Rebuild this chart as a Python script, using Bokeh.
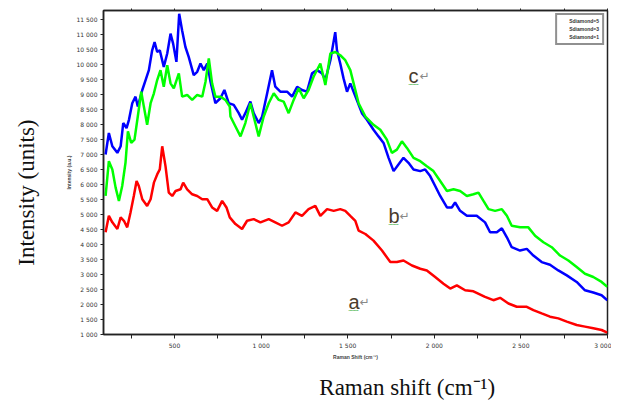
from bokeh.plotting import figure
from bokeh.models import (Range1d, FixedTicker, LinearAxis, Label, Legend,
                          LegendItem, ColumnDataSource)
from bokeh.embed import file_html
from bokeh.resources import INLINE

# ---------------- data ----------------
blue_x = [102, 121, 141, 170, 189, 204, 223, 237, 256, 275, 288, 314, 333, 352, 371, 385,
          400, 415, 438, 458, 477, 492, 511, 527, 544, 563, 582, 611, 631, 650, 669, 689,
          708, 736, 765, 788, 813, 842, 871, 890, 909, 938, 957, 986, 1006, 1035, 1063,
          1082, 1111, 1150, 1179, 1208, 1236, 1265, 1294, 1323, 1352, 1371, 1400, 1428,
          1438, 1457, 1476, 1496, 1515, 1582, 1611, 1649, 1678, 1707, 1736, 1765, 1793,
          1822, 1851, 1880, 1919, 1947, 1976, 2005, 2034, 2073, 2101, 2120, 2149, 2188,
          2245, 2293, 2322, 2361, 2390, 2419, 2447, 2495, 2534, 2572, 2620, 2668, 2716,
          2765, 2822, 2870, 2918, 2966, 2999]
blue_y = [7000, 7717, 7273, 7055, 7273, 8048, 7882, 8157, 8710, 8928, 8597, 9150, 9481, 9812,
          10474, 10749, 10418, 10474, 9921, 10365, 11027, 10696, 10087, 11689, 11136, 10583,
          10252, 9646, 9756, 10034, 9812, 10034, 9425, 8710, 8875, 9150, 8710, 8653, 8379,
          8157, 8379, 8763, 8379, 8048, 8266, 9041, 9812, 9259, 9094, 9094, 8928, 9259,
          9150, 9094, 9703, 9812, 9703, 9481, 10143, 11080, 10474, 10034, 9537, 9094, 9372,
          8379, 8157, 7826, 7604, 7386, 6889, 6446, 6668, 6889, 6724, 6502, 6446, 6502,
          6280, 5949, 5618, 5234, 5234, 5400, 5122, 4956, 4956, 4738, 4407, 4407, 4539,
          4241, 3910, 3798, 3854, 3632, 3414, 3324, 3136, 2970, 2752, 2474, 2398, 2308, 2143]

green_x = [102, 121, 141, 160, 179, 198, 217, 231, 250, 269, 288, 308, 323, 342, 362, 381,
           400, 419, 438, 458, 477, 496, 525, 544, 573, 602, 631, 660, 679, 698, 717, 736,
           765, 794, 819, 823, 852, 881, 909, 938, 957, 986, 1015, 1044, 1073, 1102, 1130,
           1159, 1188, 1217, 1246, 1274, 1303, 1342, 1371, 1400, 1428, 1457, 1486, 1515,
           1563, 1602, 1649, 1688, 1726, 1755, 1784, 1813, 1842, 1880, 1919, 1957, 1995,
           2034, 2073, 2111, 2149, 2188, 2226, 2255, 2284, 2313, 2351, 2390, 2419, 2447,
           2495, 2543, 2582, 2630, 2678, 2726, 2774, 2822, 2870, 2918, 2966, 2999]
green_y = [5618, 6777, 6502, 5896, 5453, 5949, 6724, 7770, 7386, 7495, 8266, 9094, 8597, 7991,
           8710, 9041, 9481, 9812, 9259, 9977, 9372, 9206, 9703, 8928, 8984, 8819, 8984,
           8928, 9425, 10199, 9372, 8928, 8928, 8819, 8597, 8266, 7935, 7604, 8048, 8710,
           8266, 7604, 8266, 8710, 9041, 8819, 8763, 8379, 8819, 9206, 8875, 9150, 9590,
           10034, 9315, 10365, 10418, 10308, 10143, 9812, 8710, 8266, 7991, 7826, 7495,
           7055, 7164, 7439, 7220, 6889, 6777, 6611, 6446, 6115, 5784, 5840, 5784, 5618,
           5674, 5731, 5453, 5178, 5122, 5178, 4956, 4625, 4572, 4572, 4294, 4076, 3910,
           3632, 3467, 3248, 3026, 2917, 2752, 2586]

red_x = [102, 121, 141, 170, 189, 208, 227, 246, 265, 281, 294, 314, 342, 362, 381, 400,
         415, 429, 448, 467, 487, 506, 535, 550, 573, 602, 631, 660, 689, 717, 746, 775,
         800, 819, 852, 890, 919, 957, 996, 1044, 1082, 1121, 1159, 1198, 1236, 1274,
         1313, 1342, 1381, 1419, 1457, 1486, 1515, 1544, 1563, 1602, 1649, 1698, 1746,
         1784, 1822, 1871, 1919, 1957, 2005, 2053, 2092, 2130, 2178, 2226, 2293, 2341,
         2380, 2428, 2476, 2534, 2572, 2620, 2668, 2716, 2765, 2822, 2870, 2918, 2966, 2999]
red_y = [4407, 4956, 4738, 4516, 4903, 4791, 4572, 5069, 5618, 6115, 5949, 5509, 5287, 5509,
         6062, 6336, 6502, 7273, 6611, 5731, 5618, 5784, 5840, 6062, 5840, 5674, 5618, 5509,
         5509, 5234, 5122, 5453, 5234, 4903, 4681, 4516, 4791, 4847, 4738, 4847, 4738,
         4625, 4738, 5069, 4956, 5178, 5287, 4956, 5178, 5122, 5178, 5122, 4956, 4791,
         4460, 4350, 4129, 3798, 3414, 3414, 3467, 3301, 3192, 3136, 2917, 2695, 2530,
         2639, 2474, 2441, 2255, 2143, 2222, 2033, 1924, 1924, 1812, 1702, 1593, 1537,
         1428, 1315, 1262, 1206, 1150, 1064]

series_names = ["Sdiamond=5", "Sdiamond=3", "Sdiamond=1"]
series_colors = ["#0000ff", "#00ff00", "#ff0000"]

x_ticks = [250, 500, 750, 1000, 1250, 1500, 1750, 2000, 2250, 2500, 2750, 3000]
x_tick_labels = ["", "500", "", "1 000", "", "1 500", "", "2 000", "", "2 500", "", "3 000"]
y_ticks = [1000, 1500, 2000, 2500, 3000, 3500, 4000, 4500, 5000, 5500, 6000, 6500, 7000,
           7500, 8000, 8500, 9000, 9500, 10000, 10500, 11000, 11500]
y_tick_labels = ["1 000", "1 500", "2 000", "2 500", "3 000", "3 500", "4 000", "4 500",
                 "5 000", "5 500", "6 000", "6 500", "7 000", "7 500", "8 000", "8 500",
                 "9 000", "9 500", "10 000", "10 500", "11 000", "11 500"]

x_caption = "Raman shift (cm⁻¹)"
y_caption = "Intensity (units)"

# ---------------- figure ----------------
p = figure(width=611, height=402, output_backend="svg", toolbar_location=None,
           x_range=Range1d(90, 3000), y_range=Range1d(1000, 11800),
           min_border_left=103, min_border_right=4, min_border_top=10, min_border_bottom=66,
           x_axis_location=None, y_axis_location=None)
p.background_fill_color = "white"
p.border_fill_color = "white"
p.outline_line_color = "#222222"
p.outline_line_width = 1.5
p.xgrid.visible = False
p.ygrid.visible = False

tick_font = "DejaVu Sans"


def style_axis(ax, tick_out):
    ax.major_label_text_font = tick_font
    ax.major_label_text_font_size = "6px"
    ax.major_label_text_color = "#333333"
    ax.major_label_standoff = 3
    ax.major_tick_out = tick_out
    ax.major_tick_in = 0
    ax.minor_tick_line_color = None
    ax.axis_label_text_font = "Liberation Sans"
    ax.axis_label_text_font_style = "bold"
    ax.axis_label_text_font_size = "5px"
    ax.axis_label_standoff = 2
    ax.axis_line_color = "#222222"
    ax.axis_line_width = 1.5
    ax.major_tick_line_color = "#222222"


xaxis = LinearAxis(ticker=FixedTicker(ticks=x_ticks),
                   major_label_overrides={t: l for t, l in zip(x_ticks, x_tick_labels)},
                   axis_label="Raman Shift (cm⁻¹)")
style_axis(xaxis, 4)
p.add_layout(xaxis, "below")

yaxis = LinearAxis(ticker=FixedTicker(ticks=y_ticks),
                   major_label_overrides={t: l for t, l in zip(y_ticks, y_tick_labels)},
                   axis_label="Intensity (a.u.)")
style_axis(yaxis, 3)
p.add_layout(yaxis, "left")

top_axis = LinearAxis(ticker=FixedTicker(ticks=x_ticks),
                      major_label_overrides={t: "" for t in x_ticks})
style_axis(top_axis, 2)
top_axis.major_label_text_font_size = "0px"
top_axis.major_label_standoff = 0
p.add_layout(top_axis, "above")


def caption_axis(text, standoff):
    ax = LinearAxis(ticker=FixedTicker(ticks=[]), axis_label=text)
    ax.axis_line_color = None
    ax.major_tick_line_color = None
    ax.minor_tick_line_color = None
    ax.major_label_text_font_size = "0px"
    ax.major_label_standoff = 0
    ax.major_tick_out = 0
    ax.major_tick_in = 0
    ax.axis_label_text_font = "Liberation Serif"
    ax.axis_label_text_font_style = "normal"
    ax.axis_label_text_font_size = "23px"
    ax.axis_label_text_color = "#111111"
    ax.axis_label_standoff = standoff
    return ax


NB = "\u00a0"
p.add_layout(caption_axis(NB * 18 + x_caption, 12), "below")
p.add_layout(caption_axis(y_caption + NB * 7, 24), "left")

# ---------------- curves ----------------
xs = [blue_x, green_x, red_x]
ys = [blue_y, green_y, red_y]
for x, y, c in zip(xs, ys, series_colors):
    p.line(x, y, line_color=c, line_width=2.5)

# legend proxies (square markers)
items = []
for name, c in zip(series_names, series_colors):
    r = p.scatter(x="x", y="y", source=ColumnDataSource(data=dict(x=[], y=[])),
                  marker="square", size=5, fill_color=c, line_color=c)
    items.append(LegendItem(label=name, renderers=[r]))
legend = Legend(items=items, location="top_right")
legend.label_text_font = "Liberation Sans"
legend.label_text_font_style = "bold"
legend.label_text_font_size = "5px"
legend.label_text_color = "#333333"
legend.glyph_height = 6
legend.glyph_width = 6
legend.label_height = 6
legend.label_standoff = 3
legend.spacing = 2
legend.padding = 3
legend.margin = 3
legend.border_line_color = "#222222"
legend.border_line_width = 2
legend.background_fill_color = "white"
legend.background_fill_alpha = 1
p.add_layout(legend)

# ---------------- document-like annotations ----------------
def lab(x, y, text, **kw):
    p.add_layout(Label(x=x, y=y, x_units="screen", y_units="screen", text=text, **kw))


for (lx, ly, t) in [(305, 259, "c"), (285, 119, "b"), (245, 33, "a")]:
    lab(lx, ly, t, text_font="Liberation Sans", text_font_size="20px",
        text_color="#4a3c2c", text_align="left", text_baseline="alphabetic")
    lab(lx + 11, ly, "↵", text_font="DejaVu Sans", text_font_size="12px",
        text_color="#888888", text_align="left", text_baseline="alphabetic")
    lab(lx + 5, ly - 4, "﹏", text_font="Noto Sans CJK SC", text_font_size="10px",
        text_color="#3cb043", text_align="center", text_baseline="middle")

open("out.html", "w").write(file_html(p, INLINE))
